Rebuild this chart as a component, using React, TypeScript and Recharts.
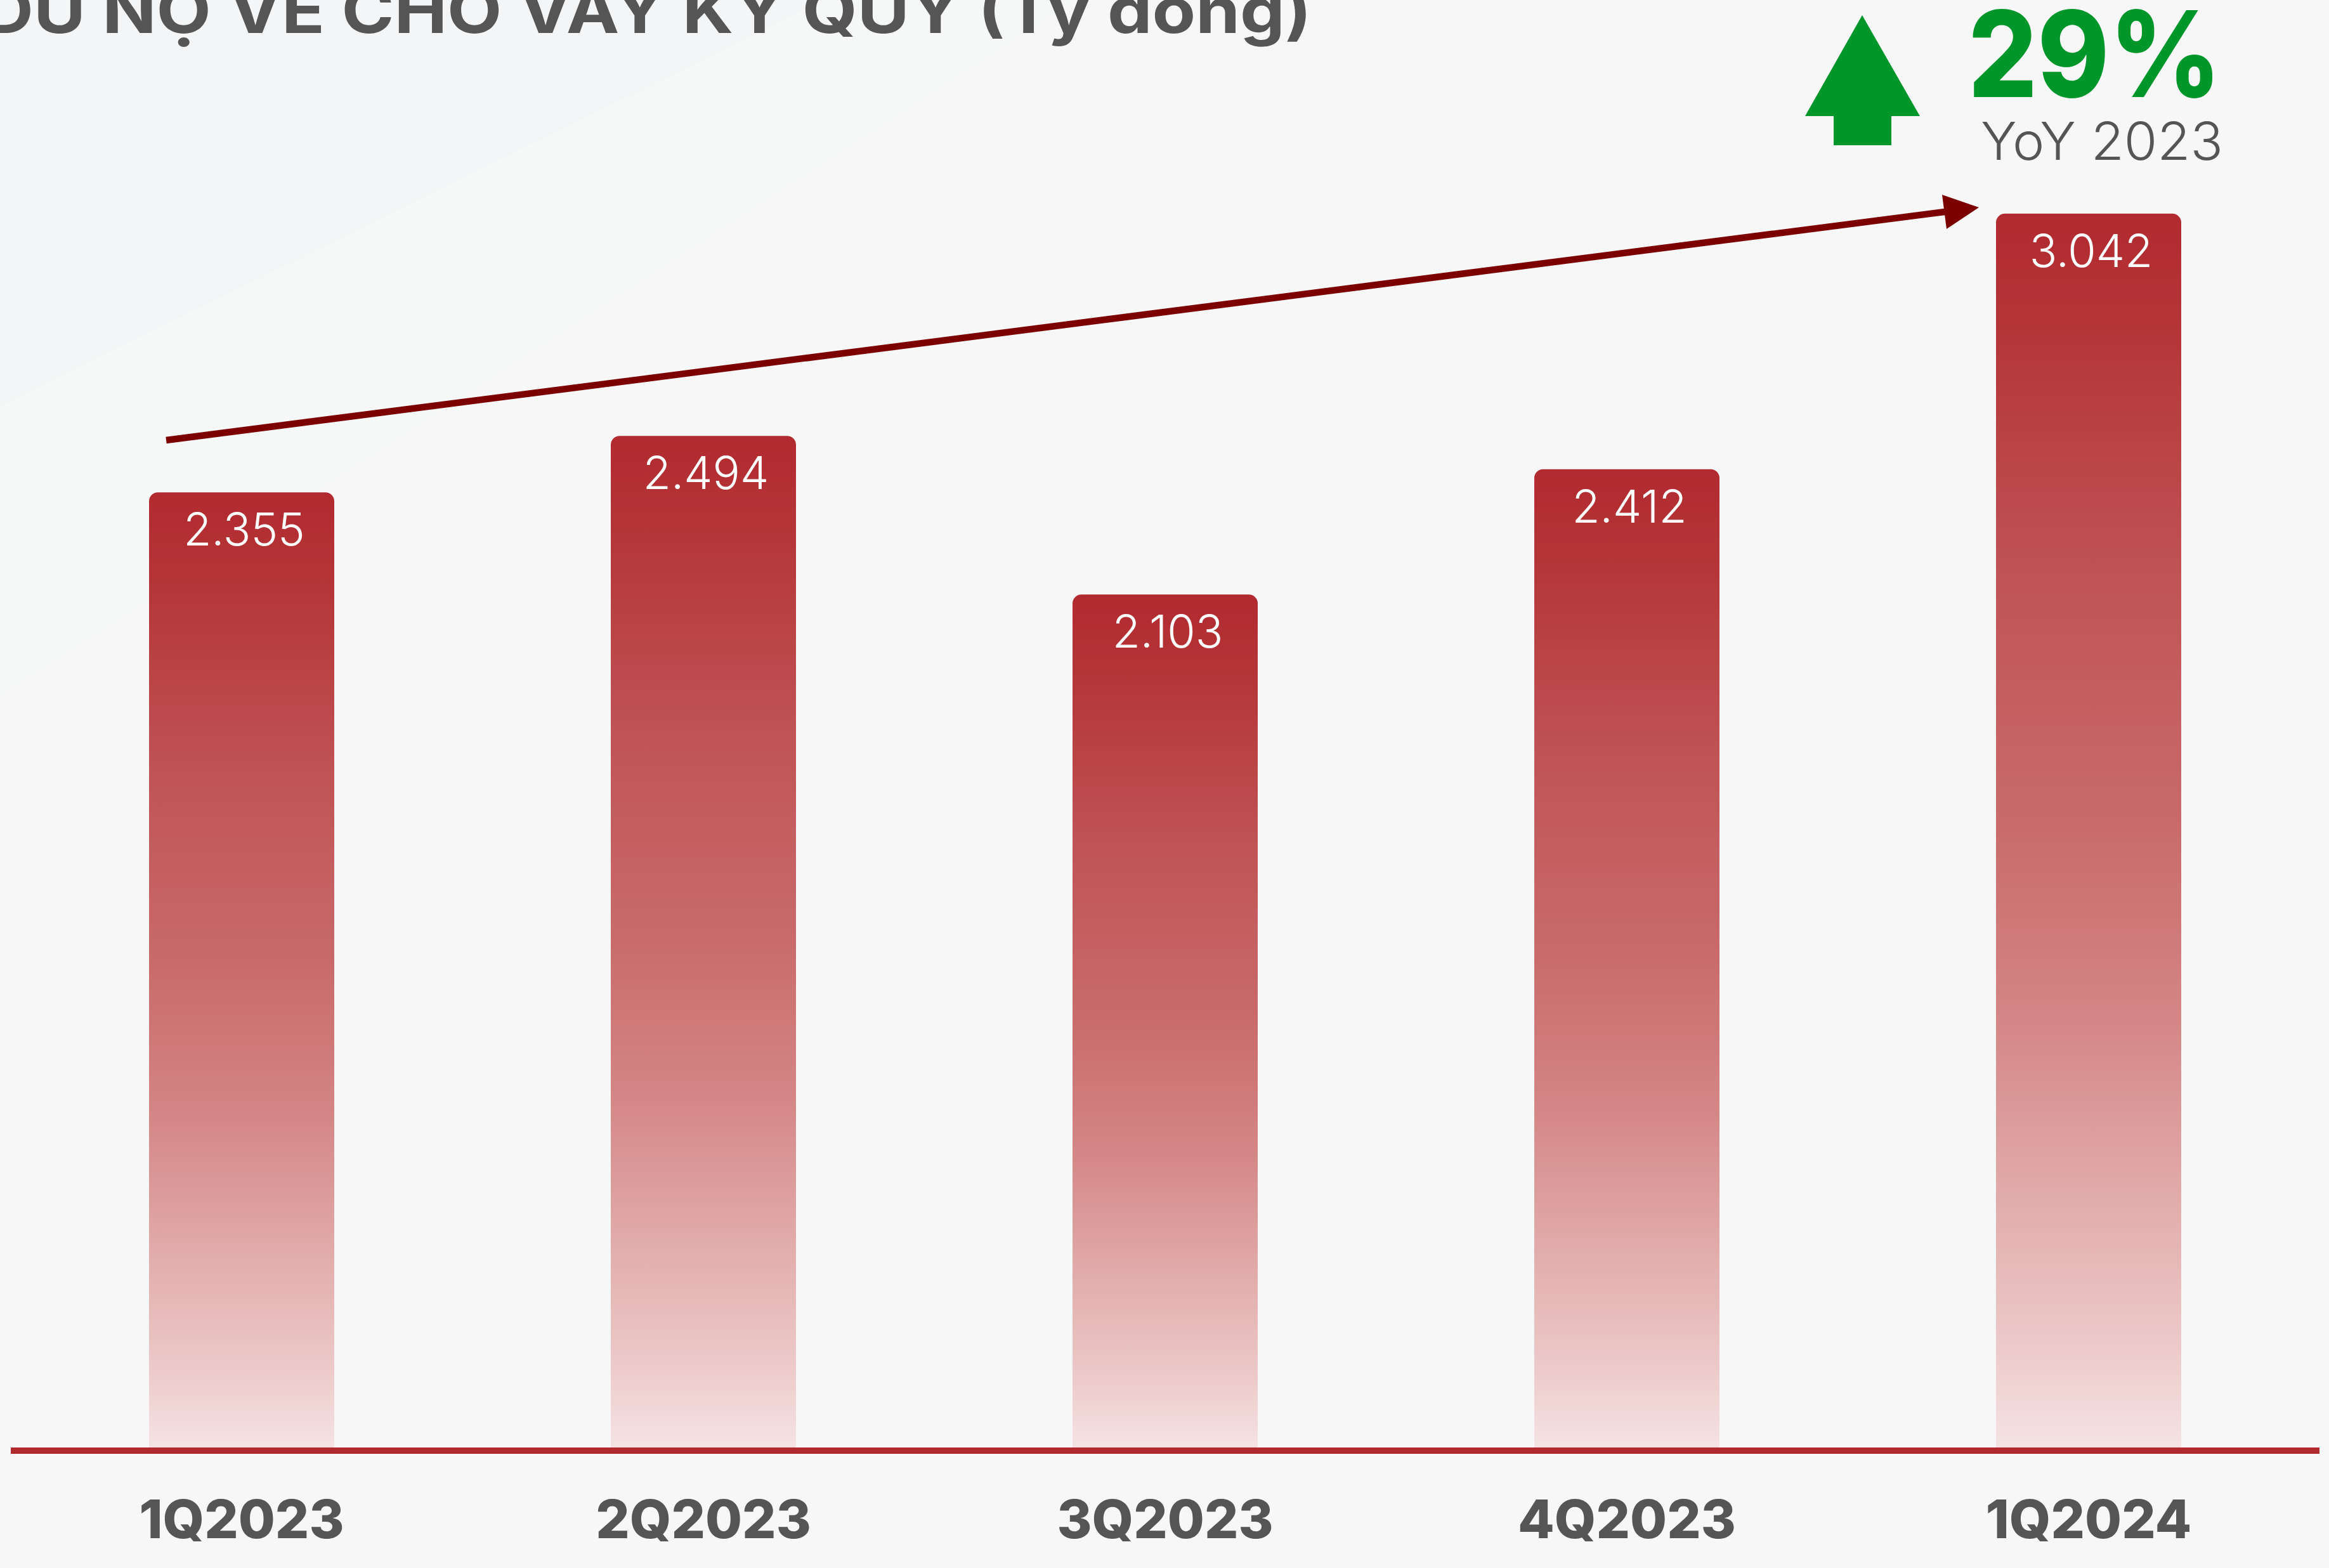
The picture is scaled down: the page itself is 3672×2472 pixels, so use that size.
import React from 'react';
import { BarChart, Bar, XAxis, YAxis, LabelList, Cell } from 'recharts';

const categories = ['1Q2023', '2Q2023', '3Q2023', '4Q2023', '1Q2024'];
const values = [2355, 2494, 2103, 2412, 3042];
const valueLabels = ['2.355', '2.494', '2.103', '2.412', '3.042'];
const yDomain: [number, number] = [0, 3500];
const title = 'DƯ NỢ VỀ CHO VAY KÝ QUỸ (Tỷ đồng)';
const kpiValue = '29%';
const kpiCaption = 'YoY 2023';

const data = categories.map((c, i) => ({ name: c, value: values[i], label: valueLabels[i] }));

const W = 3672;
const H = 2472;
const FONT = 'Inter, "Open Sans", sans-serif';

const ValueLabel = (props: any) => {
  const { x, y, width, index } = props;
  return (
    <text
      x={x + width / 2 + 4}
      y={y + 84}
      textAnchor="middle"
      fill="#ffffff"
      fontFamily={FONT}
      fontWeight={300}
      fontSize={72}
    >
      {valueLabels[index]}
    </text>
  );
};

const Tick = (props: any) => {
  const { x, y, payload } = props;
  return (
    <text
      x={x}
      y={y + 143}
      textAnchor="middle"
      fill="#555555"
      fontFamily={FONT}
      fontWeight={800}
      fontSize={84}
    >
      {payload.value}
    </text>
  );
};

export default function App() {
  return (
    <div style={{ position: 'absolute', left: 0, top: 0, width: W, height: H, background: '#F7F7F7', overflow: 'hidden' }}>
      <svg width={W} height={H} style={{ position: 'absolute', left: 0, top: 0 }}>
        <polygon points="0,0 1300,0 0,640" fill="#F2F3F5" opacity={0.7} />
        <polygon points="0,640 1300,0 1700,0 0,1100" fill="#F5F6F7" opacity={0.6} />
      </svg>
      <div style={{ position: 'absolute', left: 0, top: 0 }}>
        <BarChart
          width={W}
          height={H}
          data={data}
          margin={{ top: 44, right: 15, left: 17, bottom: 0 }}
        >
          <defs>
            <linearGradient id="barGrad" x1="0" y1="0" x2="0" y2="1">
              <stop offset="0" stopColor="#B12A2F" />
              <stop offset="0.1" stopColor="#B53638" />
              <stop offset="0.3" stopColor="#C05456" />
              <stop offset="0.5" stopColor="#C96B6B" />
              <stop offset="0.65" stopColor="#D48585" />
              <stop offset="0.8" stopColor="#E2ACAC" />
              <stop offset="0.92" stopColor="#EDCACA" />
              <stop offset="1" stopColor="#F5E3E3" />
            </linearGradient>
          </defs>
          <YAxis hide domain={yDomain} />
          <XAxis
            dataKey="name"
            height={190}
            tickLine={false}
            tickSize={0}
            tickMargin={0}
            interval={0}
            axisLine={{ stroke: '#B12A2D', strokeWidth: 10, transform: 'translate(0,5)' }}
            tick={<Tick />}
          />
          <Bar dataKey="value" barSize={292} radius={[14, 14, 0, 0]} fill="url(#barGrad)" isAnimationActive={false}>
            {data.map((d) => (
              <Cell key={d.name} fill="url(#barGrad)" />
            ))}
            <LabelList dataKey="value" content={<ValueLabel />} />
          </Bar>
        </BarChart>
      </div>
      <svg width={W} height={H} style={{ position: 'absolute', left: 0, top: 0, pointerEvents: 'none' }}>
        <text
          x={-28}
          y={52}
          fill="#555555"
          fontFamily={FONT}
          fontWeight={700}
          fontSize={100}
          textLength={2096}
          lengthAdjust="spacingAndGlyphs"
        >
          {title}
        </text>
        <line x1={262} y1={694} x2={3066} y2={334} stroke="#7D0000" strokeWidth={10.5} />
        <polygon points="3120,327 3062,307 3069,361" fill="#7D0000" />
        <polygon points="2936,24 3027,183 2982,183 2982,229 2891,229 2891,183 2846,183" fill="#00962A" />
        <text
          x={3103}
          y={153}
          fill="#00962A"
          fontFamily={FONT}
          fontWeight={800}
          fontSize={188}
          textLength={399}
          lengthAdjust="spacingAndGlyphs"
        >
          {kpiValue}
        </text>
        <text
          x={3123}
          y={252}
          fill="#555555"
          fontFamily={FONT}
          fontWeight={300}
          fontSize={82}
          textLength={382}
          lengthAdjust="spacingAndGlyphs"
        >
          {kpiCaption}
        </text>
      </svg>
    </div>
  );
}
